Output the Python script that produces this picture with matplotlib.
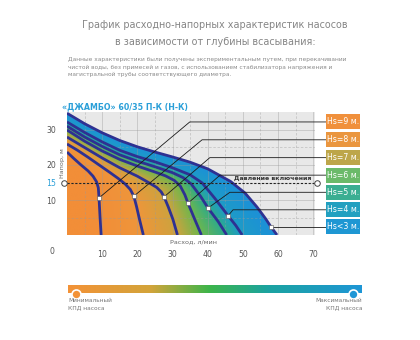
import numpy as np
import matplotlib
matplotlib.use("Agg")
import matplotlib.pyplot as plt
from matplotlib.colors import LinearSegmentedColormap
from matplotlib.patches import Rectangle

plt.rcParams['font.family'] = ['DejaVu Sans']

# ---- data: pump curves (flow, l/min -> head, m) for each suction depth ----
depth_labels = ["Hs=9 м.", "Hs=8 м.", "Hs=7 м.", "Hs=6 м.", "Hs=5 м.", "Hs=4 м.", "Hs<3 м."]

q_hs9 = [0, 2, 4, 6, 7.4, 8.4, 8.9, 9.1, 9.4, 9.7]
h_hs9 = [23.7, 21.8, 20.0, 18.3, 16.8, 15.2, 13.5, 10.6, 5.0, 0]

q_hs8 = [0, 3, 6, 9, 12, 14.5, 16.5, 18, 19.0, 19.8, 20.6, 21.7]
h_hs8 = [26.0, 24.2, 22.2, 20.1, 18.0, 16.2, 14.6, 13.0, 11.1, 8.0, 4.5, 0]

q_hs7 = [0, 5, 10, 15, 20, 23, 25.5, 26.8, 27.6, 28.8, 30.1, 31.4]
h_hs7 = [28.0, 25.0, 22.0, 19.2, 16.8, 15.1, 13.6, 12.3, 10.9, 8.0, 4.5, 0]

q_hs6 = [0, 5, 10, 15, 20, 25, 28, 30.5, 32.2, 33.5, 34.4, 36.3, 38.2]
h_hs6 = [30.0, 26.8, 24.0, 21.6, 19.7, 18.0, 16.9, 15.6, 14.0, 11.5, 9.1, 4.5, 0]

q_hs5 = [0, 5, 10, 15, 20, 25, 30, 33, 35.3, 38, 40.1, 43, 45.4]
h_hs5 = [31.1, 28.0, 25.3, 22.9, 21.1, 19.5, 17.8, 16.4, 14.6, 11.0, 7.7, 3.8, 0]

q_hs4 = [0, 5, 10, 15, 20, 25, 30, 35, 38.4, 42, 45.8, 48, 49.8]
h_hs4 = [32.3, 29.3, 26.6, 24.2, 22.4, 20.9, 19.2, 17.2, 14.9, 10.5, 5.5, 2.7, 0]

q_hs3 = [0, 5, 10, 15, 20, 25, 30, 35, 40, 46.5, 50.6, 54, 56.5, 58.0, 59.7]
h_hs3 = [34.8, 31.8, 29.2, 27.0, 25.2, 23.7, 22.3, 20.8, 18.9, 15.3, 12.0, 8.0, 4.6, 2.3, 0]

curve_q = [q_hs9, q_hs8, q_hs7, q_hs6, q_hs5, q_hs4, q_hs3]
curve_h = [h_hs9, h_hs8, h_hs7, h_hs6, h_hs5, h_hs4, h_hs3]

# operating points marked on each curve
point_q = [9.1, 19.0, 27.6, 34.4, 40.1, 45.8, 58.0]
point_h = [10.6, 11.1, 10.9, 9.1, 7.7, 5.5, 2.3]

# leader line elbows and label rows
elbow_q = [34.9, 38.4, 40.6, 43.5, 46.3, 47.2, 58.0]
label_h = [32.3, 27.2, 22.1, 17.1, 12.2, 7.2, 2.3]

label_colors = ["#F0903C", "#EA963F", "#BDA64A", "#6BBA6A", "#3BAE92", "#22A0C0", "#1E97D3"]

x_ticks = [10, 20, 30, 40, 50, 60, 70]
y_ticks = [10, 15, 20, 30]
switch_on_head = 15

# ---- figure ----
W, H = 420, 340
fig = plt.figure(figsize=(W / 100, H / 100), dpi=100)
fig.patch.set_facecolor("white")

ax_l, ax_r, ax_t, ax_b = 67, 315, 112.5, 235
ax = fig.add_axes([ax_l / W, 1 - ax_b / H, (ax_r - ax_l) / W, (ax_b - ax_t) / H])
QMAX, HMAX = 70.5, 35
ax.set_xlim(0, QMAX)
ax.set_ylim(0, HMAX)
ax.set_facecolor("#E8E8E8")
for s in ax.spines.values():
    s.set_visible(False)

# ---- efficiency colour field between the curves ----
nq, nh = 380, 190
qg = np.linspace(0, QMAX, nq)
hg = np.linspace(0, HMAX, nh)
QQ, HH = np.meshgrid(qg, hg)
below, dist = [], []
for q, h in zip(curve_q, curve_h):
    q = np.asarray(q, float)
    h = np.asarray(h, float)
    top = np.interp(QQ, q, h, right=-1.0)
    below.append(HH <= top)
    arc = np.r_[0, np.cumsum(np.hypot(np.diff(q), np.diff(h)))]
    s = np.linspace(0, arc[-1], 300)
    pq, ph = np.interp(s, arc, q), np.interp(s, arc, h)
    d = np.full(QQ.shape, np.inf)
    for a, b in zip(pq, ph):
        d = np.minimum(d, (QQ - a) ** 2 + (HH - b) ** 2)
    dist.append(np.sqrt(d))

n_curves = len(curve_q)
count = np.sum(below, axis=0)
j0 = n_curves - count
c = np.zeros(QQ.shape)
for j in range(1, n_curves):
    m = j0 == j
    di, do = dist[j - 1][m], dist[j][m]
    c[m] = (j - 1) + di / (di + do + 1e-9)

field_cmap = LinearSegmentedColormap.from_list(
    "eff",
    [(0.0, "#F28E38"), (1 / 6, "#EE963B"), (2 / 6, "#CDA33E"), (3 / 6, "#6DB74D"),
     (4 / 6, "#2DAA8C"), (5 / 6, "#1E9CC6"), (1.0, "#1C90D8")])
rgba = field_cmap(c / (n_curves - 1))
rgba[count == 0, 3] = 0
ax.imshow(rgba, extent=(0, QMAX, 0, HMAX), origin="lower", aspect="auto",
          interpolation="bilinear", zorder=1)

# grid
for v in np.arange(5, QMAX, 5):
    ax.axvline(v, color="#9A9A9A", lw=0.6, alpha=0.45, zorder=2,
               ls="-" if v % 10 == 0 else (0, (3, 2)))
for v in np.arange(5, HMAX, 5):
    ax.axhline(v, color="#9A9A9A", lw=0.6, alpha=0.45, zorder=2,
               ls="-" if v % 10 == 0 else (0, (3, 2)))

navy = "#2E3192"
for q, h in zip(curve_q, curve_h):
    ax.plot(q, h, color=navy, lw=2.0, solid_capstyle="butt", zorder=3)

# switch-on pressure line
ax.plot([0, QMAX], [switch_on_head, switch_on_head], color="#222222", lw=0.8,
        ls=(0, (2.0, 1.5)), zorder=4, clip_on=False)
ax.plot([-0.8, 71.2], [switch_on_head, switch_on_head], ls="none", marker="o", ms=4,
        mfc="white", mec="#444444", mew=0.7, zorder=6, clip_on=False)
ax.text(69.6, switch_on_head + 0.4, "Давление включения", ha="right", va="bottom",
        fontsize=4.5, fontweight="bold", color="#333333", zorder=6)

# leader lines and labels
box_q0, box_q1, box_hh = 73.6, 83.2, 4.3
for i in range(n_curves):
    ax.plot([point_q[i], elbow_q[i], box_q0], [point_h[i], label_h[i], label_h[i]],
            color="#1A1A1A", lw=0.6, zorder=4, clip_on=False)
    ax.add_patch(Rectangle((box_q0, label_h[i] - box_hh / 2), box_q1 - box_q0, box_hh,
                           facecolor=label_colors[i], edgecolor="none", clip_on=False,
                           zorder=5))
    ax.text((box_q0 + box_q1) / 2, label_h[i], depth_labels[i], ha="center", va="center",
            fontsize=5.6, color="white", zorder=6, clip_on=False)
ax.plot(point_q, point_h, ls="none", marker="s", ms=3.4, mfc="white", mec="#555555",
        mew=0.4, zorder=6)

# ticks
ax.set_xticks(x_ticks)
ax.set_xticklabels([str(v) for v in x_ticks])
ax.set_yticks(y_ticks)
ax.set_yticklabels([str(v) for v in y_ticks])
ax.tick_params(length=0, labelsize=5.6, labelcolor="#555555")
ax.tick_params(axis="x", pad=11)
ax.tick_params(axis="y", pad=8)
for t in ax.get_yticklabels():
    if t.get_text() == "15":
        t.set_color("#2A9FD8")
fig.text(52 / W, 1 - 252 / H, "0", ha="center", va="center", fontsize=5.6, color="#555555")

ax.text(-0.02, 0.59, "Напор, м", rotation=90, transform=ax.transAxes, ha="center",
        va="center", fontsize=4.6, color="#666666")
ax.text(0.512, -0.057, "Расход, л/мин", transform=ax.transAxes, ha="center",
        va="center", fontsize=4.6, color="#666666")

ax.text(-0.02, 1.05, "«ДЖАМБО» 60/35 П-К (Н-К)", transform=ax.transAxes, ha="left",
        va="center", fontsize=5.7, fontweight="bold", color="#2A9FD8")

# headings
fig.text(215 / W, 1 - 25 / H, "График расходно-напорных характеристик насосов",
         ha="center", va="center", fontsize=6.9, color="#858585")
fig.text(215 / W, 1 - 42 / H, "в зависимости от глубины всасывания:",
         ha="center", va="center", fontsize=6.9, color="#858585")
desc = ["Данные характеристики были получены экспериментальным путем, при перекачивании",
        "чистой воды, без примесей и газов, с использованием стабилизатора напряжения и",
        "магистральной трубы соответствующего диаметра."]
for k, line in enumerate(desc):
    fig.text(68 / W, 1 - (60 + 7.3 * k) / H, line, ha="left", va="center",
             fontsize=4.2, color="#8A8A8A")

# efficiency scale bar
bar_l, bar_r, bar_t, bar_b = 68, 362, 285, 292.5
cax = fig.add_axes([bar_l / W, 1 - bar_b / H, (bar_r - bar_l) / W, (bar_b - bar_t) / H])
bar_cmap = LinearSegmentedColormap.from_list(
    "bar", [(0.0, "#F39237"), (0.28, "#D3A43A"), (0.48, "#3DB54A"), (0.68, "#1BA3A0"),
            (1.0, "#1E96D6")])
cax.imshow(np.linspace(0, 1, 256)[None, :], cmap=bar_cmap, aspect="auto",
           extent=(0, 1, 0, 1))
cax.set_xlim(0, 1)
cax.set_ylim(0, 1)
cax.axis("off")
cax.plot([(76 - bar_l) / (bar_r - bar_l)], [-0.15], marker="o", ms=6.5, mfc="#F39237",
         mec="white", mew=1.2, clip_on=False)
cax.plot([(353 - bar_l) / (bar_r - bar_l)], [-0.15], marker="o", ms=6.5, mfc="#1E96D6",
         mec="white", mew=1.2, clip_on=False)
fig.text(68 / W, 1 - 304 / H, "Минимальный\nКПД насоса", ha="left", va="center",
         fontsize=4.2, color="#777777", linespacing=1.5)
fig.text(362 / W, 1 - 304 / H, "Максимальный\nКПД насоса", ha="right", va="center",
         fontsize=4.2, color="#777777", linespacing=1.5, multialignment="right")

fig.savefig("out.png", dpi=100, facecolor="white")
